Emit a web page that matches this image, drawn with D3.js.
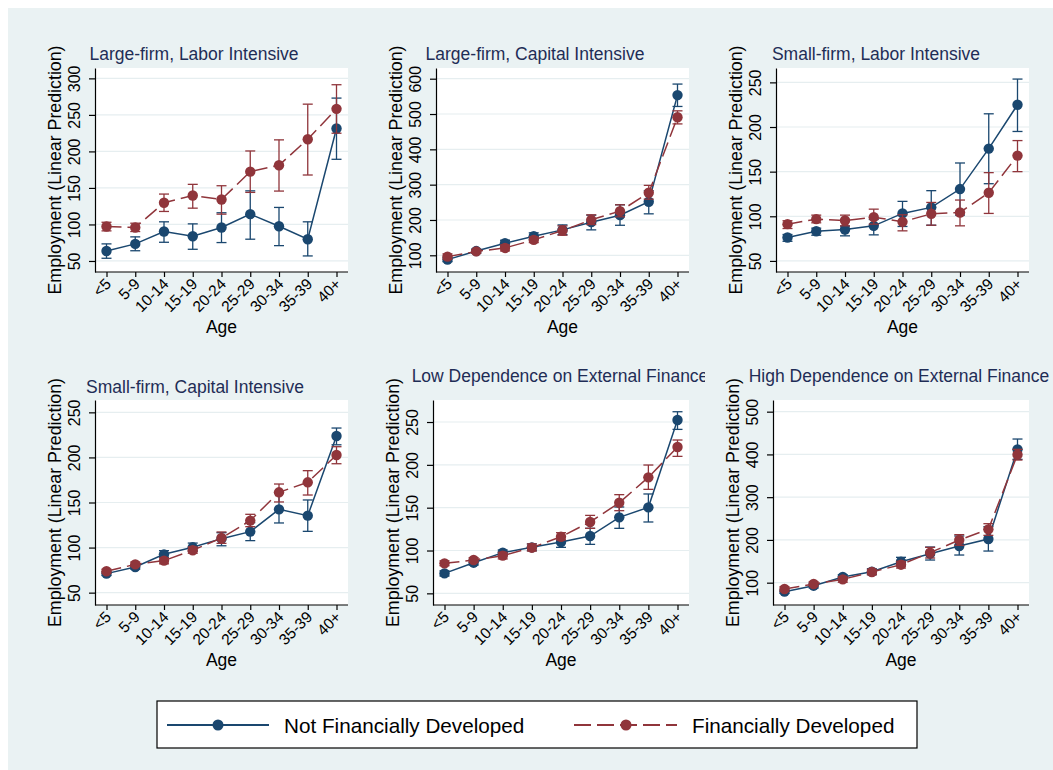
<!DOCTYPE html>
<html>
<head>
<meta charset="utf-8">
<script src="https://cdn.jsdelivr.net/npm/d3@7"></script>
<style>
  body { margin: 0; background: #ffffff; }
  text { font-family: Arial, "Liberation Sans", Helvetica, sans-serif; }
</style>
</head>
<body>
<svg id="chart" width="1053" height="770"></svg>
<script>
// ---- data ----
const ageGroups = ["<5", "5-9", "10-14", "15-19", "20-24", "25-29", "30-34", "35-39", "40+"];

const panelTitles = [
  "Large-firm, Labor Intensive",
  "Large-firm, Capital Intensive",
  "Small-firm, Labor Intensive",
  "Small-firm, Capital Intensive",
  "Low Dependence on External Finance",
  "High Dependence on External Finance"
];

const seriesNames = ["Not Financially Developed", "Financially Developed"];

// Predicted employment and 95% CI, not financially developed
const notDevMean = [
  [63.7, 73.4, 90.3, 83.9, 95.8, 114.1, 97.6, 79.8, 231.3],
  [87.7, 112, 134, 154, 172, 193.8, 213.6, 251.5, 553.6],
  [76.2, 83.3, 85.2, 89.3, 103.2, 110, 130.5, 175.8, 224.9],
  [71.1, 78.5, 92.5, 100.3, 109.9, 117.7, 142.4, 135.4, 223.8],
  [73.3, 85.8, 97.5, 103.7, 109.9, 116.9, 138.7, 150.4, 252.3],
  [79, 93, 113.3, 125.7, 149.1, 167.8, 185.8, 202.1, 411.9]
];
const notDevLow = [
  [53.7, 64, 75.6, 66, 75.2, 79.8, 71, 56.9, 189.2],
  [82, 106, 125.6, 144.5, 158.7, 172, 185, 217.4, 521.4],
  [72, 78.8, 78.1, 79.2, 88.6, 90, 101.3, 136.5, 195],
  [69, 76, 89.2, 95.8, 102, 107.7, 127.3, 118, 214],
  [70.2, 83, 93.8, 99.8, 103.7, 107.2, 125.9, 133.3, 241.4],
  [75, 87.5, 108, 118.7, 139, 153, 164.7, 174, 388.5]
];
const notDevHigh = [
  [73.4, 83, 103.6, 100.8, 116, 146, 123.3, 103.6, 273],
  [94, 118, 142.6, 163.6, 186, 213.6, 243, 282.8, 584.8],
  [79.6, 86.7, 89, 96.4, 116.7, 128.7, 159.7, 214.8, 253.7],
  [73, 81, 96.6, 105, 116.5, 127.6, 160.2, 152.8, 232.6],
  [76.3, 88.9, 100.6, 107.7, 115.8, 125.9, 150.8, 166, 262],
  [83, 98.4, 118.7, 132.7, 159.3, 183.4, 209.2, 231, 436]
];

// Predicted employment and 95% CI, financially developed
const devMean = [
  [97.2, 95.8, 129.7, 139.7, 134.2, 172.3, 181, 216.7, 258.3],
  [96.2, 111, 120.8, 143.6, 170, 200.4, 225, 277, 491],
  [91.2, 96.8, 95.3, 99, 93.8, 102.8, 104.3, 126.4, 168],
  [73.7, 81.4, 85.5, 97, 110.6, 129.9, 161.3, 172.4, 202.7],
  [85, 88.9, 94, 103.3, 116.1, 133.3, 155.8, 185.4, 220.8],
  [85.2, 96.9, 107.8, 125, 142.1, 170.2, 199.8, 224.8, 399.4]
];
const devLow = [
  [91.2, 90.3, 117.8, 122.3, 114.1, 143.9, 145.7, 167.7, 224.9],
  [89, 106, 112.3, 136, 156.8, 187, 209, 259, 472],
  [86.3, 92.7, 89.3, 91.2, 83.7, 90, 89.3, 103.2, 150],
  [71.5, 79, 82, 93.7, 104.7, 123.2, 150.6, 158.3, 193],
  [82.3, 86.2, 90.2, 99.4, 112.3, 125.9, 146.5, 171.4, 209.9],
  [79.7, 92, 101, 118.7, 134.3, 157.7, 187.3, 210.7, 386.9]
];
const devHigh = [
  [103, 101.7, 141.6, 154.9, 153, 200.6, 215.8, 264.7, 291.3],
  [104, 116, 129.4, 152, 183.3, 214.6, 243, 298, 509],
  [95, 101.3, 101.3, 108, 101.7, 115.5, 118.2, 148.9, 184.8],
  [76, 84, 88.5, 100.7, 117.3, 136.9, 170.5, 185.3, 211.9],
  [88, 91.6, 97.9, 107.7, 120.8, 141, 165.2, 199.8, 229],
  [90.6, 102, 114, 131.2, 149.9, 182.6, 212.3, 238, 411.9]
];

const yTicks = [
  [50, 100, 150, 200, 250, 300],
  [100, 200, 300, 400, 500, 600],
  [50, 100, 150, 200, 250],
  [50, 100, 150, 200, 250],
  [50, 100, 150, 200, 250],
  [100, 200, 300, 400, 500]
];
const yDomains = [
  [34.9, 314.2],
  [52.7, 630.3],
  [37.6, 266.1],
  [36.3, 263.7],
  [36.4, 275.7],
  [47.8, 527.3]
];

// ---- layout & style ----
const layout = [
  { x0: 95,  x1: 348,  y0: 68,  y1: 272, titleX: 194, titleY: 60 },
  { x0: 436, x1: 689,  y0: 68,  y1: 272, titleX: 535, titleY: 60 },
  { x0: 776, x1: 1029, y0: 68,  y1: 272, titleX: 876, titleY: 60 },
  { x0: 95,  x1: 348,  y0: 400, y1: 605, titleX: 195, titleY: 393 },
  { x0: 433, x1: 689,  y0: 400, y1: 605, titleX: 560, titleY: 382, clipRight: 705 },
  { x0: 773, x1: 1029, y0: 400, y1: 605, titleX: 899, titleY: 382 }
];
const colors = ["#1a476f", "#90353b"];
const dashes = [null, "15,6"];
const bg = "#eaf2f3";
const gridColor = "#e6eef0";
const titleColor = "#1f2d56";

const svg = d3.select("#chart");
svg.append("rect").attr("x", 8).attr("y", 8).attr("width", 1045).attr("height", 762).attr("fill", bg);

const defs = svg.append("defs");

layout.forEach((L, i) => {
  const g = svg.append("g");
  const x = d3.scalePoint().domain(ageGroups).range([L.x0 + 11.5, L.x1 - 11.5]);
  const y = d3.scaleLinear().domain(yDomains[i]).range([L.y1, L.y0]);

  // plot region
  g.append("rect").attr("x", L.x0).attr("y", L.y0)
    .attr("width", L.x1 - L.x0).attr("height", L.y1 - L.y0).attr("fill", "#ffffff");

  // gridlines
  g.append("g").selectAll("line").data(yTicks[i]).join("line")
    .attr("x1", L.x0).attr("x2", L.x1)
    .attr("y1", d => y(d)).attr("y2", d => y(d))
    .attr("stroke", gridColor).attr("stroke-width", 1.2);

  // y axis
  const ya = g.append("g").attr("transform", `translate(${L.x0},0)`)
    .call(d3.axisLeft(y).tickValues(yTicks[i]).tickSize(6).tickSizeOuter(0).tickFormat(d3.format("d")));
  ya.select(".domain").attr("stroke", "#000").attr("stroke-width", 1.2);
  ya.selectAll(".tick line").attr("stroke", "#000").attr("stroke-width", 1.2);
  ya.selectAll(".tick text")
    .attr("x", 0).attr("dy", null)
    .attr("transform", "translate(-15,0) rotate(-90)")
    .attr("text-anchor", "middle")
    .attr("fill", "#000")
    .style("font-size", "16px");

  // x axis
  const xa = g.append("g").attr("transform", `translate(0,${L.y1})`)
    .call(d3.axisBottom(x).tickSize(5).tickSizeOuter(0));
  xa.select(".domain").remove();
  xa.append("line").attr("x1", L.x0).attr("x2", L.x1).attr("y1", 0).attr("y2", 0)
    .attr("stroke", "#000").attr("stroke-width", 1.2);
  xa.selectAll(".tick line").attr("stroke", "#000").attr("stroke-width", 1.2);
  xa.selectAll(".tick text")
    .attr("x", 0).attr("y", 0).attr("dy", null)
    .attr("transform", "translate(5,13) rotate(-45)")
    .attr("text-anchor", "end")
    .attr("fill", "#000")
    .style("font-size", "15.5px");

  // axis titles
  g.append("text")
    .attr("transform", `translate(${L.x0 - 34},${(L.y0 + L.y1) / 2}) rotate(-90)`)
    .attr("text-anchor", "middle")
    .style("font-size", "17.8px").attr("fill", "#000")
    .text("Employment (Linear Prediction)");
  g.append("text")
    .attr("x", (L.x0 + L.x1) / 2).attr("y", L.y1 + 61)
    .attr("text-anchor", "middle")
    .style("font-size", "17.5px").attr("fill", "#000")
    .text("Age");

  // panel title
  const t = g.append("text")
    .attr("x", L.titleX).attr("y", L.titleY)
    .attr("text-anchor", "middle")
    .style("font-size", "17.5px").attr("fill", titleColor)
    .text(panelTitles[i]);
  if (L.clipRight) {
    const id = "titleclip" + i;
    defs.append("clipPath").attr("id", id).append("rect")
      .attr("x", 0).attr("y", L.titleY - 30).attr("width", L.clipRight).attr("height", 40);
    t.attr("clip-path", `url(#${id})`);
  }

  // series: CI caps, connecting line, markers
  const series = [
    { mean: notDevMean[i], lo: notDevLow[i], hi: notDevHigh[i] },
    { mean: devMean[i], lo: devLow[i], hi: devHigh[i] }
  ];
  series.forEach((s, k) => {
    const rows = ageGroups.map((a, j) => ({ a, m: s.mean[j], lo: s.lo[j], hi: s.hi[j] }));
    const sg = g.append("g").attr("stroke", colors[k]).attr("fill", "none").attr("stroke-width", 1.3);
    sg.selectAll("line.bar").data(rows).join("line").attr("class", "bar")
      .attr("x1", d => x(d.a)).attr("x2", d => x(d.a))
      .attr("y1", d => y(d.lo)).attr("y2", d => y(d.hi));
    sg.selectAll("line.capLo").data(rows).join("line").attr("class", "capLo")
      .attr("x1", d => x(d.a) - 5).attr("x2", d => x(d.a) + 5)
      .attr("y1", d => y(d.lo)).attr("y2", d => y(d.lo));
    sg.selectAll("line.capHi").data(rows).join("line").attr("class", "capHi")
      .attr("x1", d => x(d.a) - 5).attr("x2", d => x(d.a) + 5)
      .attr("y1", d => y(d.hi)).attr("y2", d => y(d.hi));
    const line = d3.line().x(d => x(d.a)).y(d => y(d.m));
    g.append("path").datum(rows)
      .attr("d", line).attr("fill", "none")
      .attr("stroke", colors[k]).attr("stroke-width", 1.5)
      .attr("stroke-dasharray", dashes[k]);
    g.append("g").selectAll("circle").data(rows).join("circle")
      .attr("cx", d => x(d.a)).attr("cy", d => y(d.m)).attr("r", 5.2)
      .attr("fill", colors[k]);
  });
});

// ---- legend ----
const lg = svg.append("g");
lg.append("rect").attr("x", 157).attr("y", 701).attr("width", 760).attr("height", 47)
  .attr("fill", "#ffffff").attr("stroke", "#000").attr("stroke-width", 1.2);
const legendItems = [
  { x1: 167, x2: 269, mx: 218, tx: 284 },
  { x1: 574, x2: 677, mx: 626, tx: 692 }
];
legendItems.forEach((it, k) => {
  lg.append("line").attr("x1", it.x1).attr("x2", it.x2).attr("y1", 725).attr("y2", 725)
    .attr("stroke", colors[k]).attr("stroke-width", 2).attr("stroke-dasharray", dashes[k] ? "17,6" : null);
  lg.append("circle").attr("cx", it.mx).attr("cy", 725).attr("r", 5.5).attr("fill", colors[k]);
  lg.append("text").attr("x", it.tx).attr("y", 733)
    .style("font-size", "20.7px").attr("fill", "#000").text(seriesNames[k]);
});
</script>
</body>
</html>
